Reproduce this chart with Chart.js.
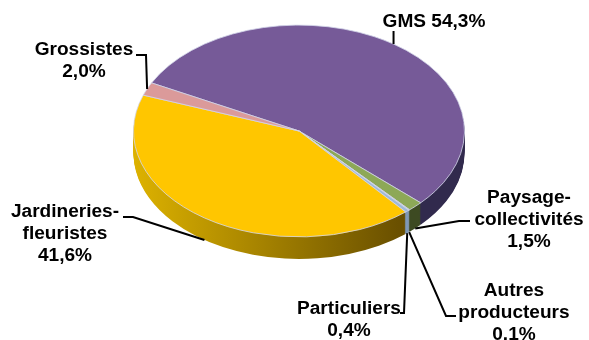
<!DOCTYPE html>
<html lang="fr">
<head>
<meta charset="UTF-8" />
<title>Circuits de distribution</title>
<script src="https://cdn.jsdelivr.net/npm/chart.js"></script>
<style>
  html, body { margin: 0; padding: 0; background: #fff; }
  #wrap { width: 589px; height: 340px; }
</style>
</head>
<body>
<div id="wrap"><canvas id="pie" width="589" height="340"></canvas></div>
<script>
// data
const categories = ["GMS", "Paysage-collectivités", "Autres producteurs", "Particuliers", "Jardineries-fleuristes", "Grossistes"];
const shares = [54.3, 1.5, 0.1, 0.4, 41.6, 2.0];
const shareLabels = ["54,3%", "1,5%", "0.1%", "0,4%", "41,6%", "2,0%"];

const topColors = ["#765A98", "#8DA857", "#B4C0D4", "#9DB9D9", "#FFC600", "#DB9A9A"];
const sideColors = [
  ["#29233F", "#312A4D"],
  ["#3D4A22", "#3D4A22"],
  ["#8A96A8", "#8A96A8"],
  ["#7E98B8", "#7E98B8"],
  ["#DDB200", "#6A5000"],
  ["#A06868", "#A06868"]
];

// 3d look
const squash = 0.64;   // vertical / horizontal radius
const depth = 22;      // thickness in px
const centerY = 131;   // where the tilted pie centre lands

// label placement (text centre x, first line cap-centre y, elbow points)
const labelSpots = [
  { x: 434, y: 20, inline: true, path: [[null, 31]], drop: 0 },
  { x: 529, y: 196, path: [[459, 221], [470, 221]], drop: 1 },
  { x: 514, y: 289, path: [[446, 316], [456, 316]], drop: 1 },
  { x: 349, y: 307, path: [[404, 313], [400, 313]], drop: 1 },
  { x: 65, y: 210, path: [[133, 217], [123, 217]], drop: 1 },
  { x: 84, y: 48, path: [[146, 55], [136, 55]], drop: 0 }
];

const tilt = {
  id: "tilt",
  beforeDatasetsDraw(chart) {
    const ctx = chart.ctx;
    const arcs = chart.getDatasetMeta(0).data;
    const cx = arcs[0].x, cy = arcs[0].y, r = arcs[0].outerRadius;
    ctx.save();
    ctx.translate(0, centerY);
    ctx.scale(1, squash);
    ctx.translate(0, -cy);
    const fills = sideColors.map(c => {
      const g = ctx.createLinearGradient(cx - r, 0, cx + r * 0.6, 0);
      g.addColorStop(0, c[0]);
      g.addColorStop(1, c[1]);
      return g;
    });
    for (let d = depth; d > 0; d--) {
      const off = d / squash;
      arcs.forEach((arc, i) => {
        ctx.beginPath();
        ctx.moveTo(arc.x, arc.y + off);
        ctx.arc(arc.x, arc.y + off, arc.outerRadius, arc.startAngle, arc.endAngle);
        ctx.closePath();
        ctx.fillStyle = fills[i];
        ctx.fill();
      });
    }
  },
  afterDatasetsDraw(chart) {
    chart.ctx.restore();
  }
};

const leaders = {
  id: "leaders",
  afterDraw(chart) {
    const ctx = chart.ctx;
    const arcs = chart.getDatasetMeta(0).data;
    ctx.save();
    ctx.font = "bold 18px 'Liberation Sans', Arial, sans-serif";
    ctx.fillStyle = "#000";
    ctx.strokeStyle = "#000";
    ctx.lineWidth = 2;
    ctx.textAlign = "center";
    ctx.textBaseline = "alphabetic";
    arcs.forEach((arc, i) => {
      const spot = labelSpots[i];
      const a = (arc.startAngle + arc.endAngle) / 2;
      const ax = arc.x + arc.outerRadius * Math.cos(a);
      const ay = centerY + arc.outerRadius * squash * Math.sin(a) + spot.drop * depth;
      ctx.beginPath();
      ctx.moveTo(ax, ay);
      spot.path.forEach(p => ctx.lineTo(p[0] === null ? ax : p[0], p[1]));
      ctx.stroke();
      let lines;
      if (spot.inline) {
        lines = [categories[i] + " " + shareLabels[i]];
      } else {
        lines = categories[i].split(/(?<=-)|\s/).concat(shareLabels[i]);
      }
      lines.forEach((t, k) => {
        ctx.save();
        ctx.translate(spot.x, spot.y + 6.5 + k * 22);
        ctx.scale(1.06, 1);
        ctx.fillText(t, 0, 0);
        ctx.restore();
      });
    });
    ctx.restore();
  }
};

new Chart(document.getElementById("pie"), {
  type: "pie",
  data: {
    labels: categories,
    datasets: [{
      data: shares,
      backgroundColor: topColors,
      borderColor: "#d4d6ea",
      borderWidth: 1,
      clip: false
    }]
  },
  options: {
    responsive: false,
    animation: false,
    events: [],
    rotation: -63,
    layout: { padding: { left: 133, right: 124, top: 4, bottom: 4 } },
    plugins: {
      legend: { display: false },
      tooltip: { enabled: false }
    }
  },
  plugins: [tilt, leaders]
});
</script>
</body>
</html>
